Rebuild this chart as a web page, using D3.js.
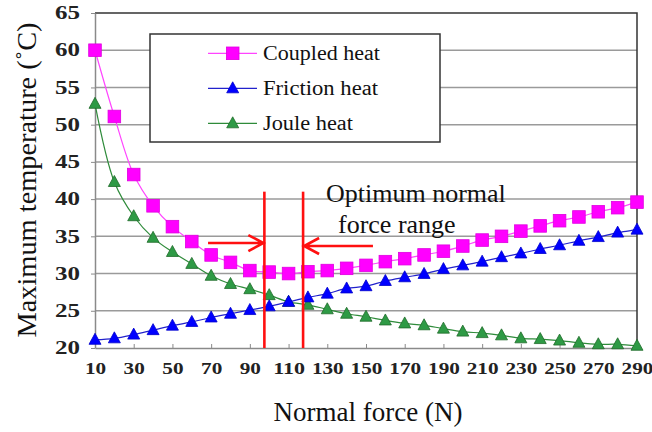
<!DOCTYPE html>
<html><head><meta charset="utf-8">
<script src="https://cdn.jsdelivr.net/npm/d3@7"></script>
<style>body{margin:0;background:#fff}svg{display:block}</style>
</head><body>
<script>
const forces = d3.range(10, 300, 10);
const coupled = [60, 51.1, 43.3, 39.1, 36.3, 34.3, 32.5, 31.5, 30.4, 30.2, 30.0, 30.25, 30.4, 30.7, 31.1, 31.6, 32.0, 32.5, 33.0, 33.7, 34.5, 35.0, 35.7, 36.4, 37.1, 37.6, 38.3, 38.85, 39.6];
const friction = [21.1, 21.3, 21.8, 22.4, 23.0, 23.5, 24.1, 24.6, 25.1, 25.6, 26.2, 26.8, 27.3, 28.0, 28.3, 29.0, 29.5, 29.95, 30.6, 31.1, 31.6, 32.2, 32.7, 33.3, 33.8, 34.4, 34.9, 35.5, 35.9];
const joule = [52.8, 42.3, 37.7, 34.8, 32.9, 31.3, 29.7, 28.6, 27.9, 27.1, 26.2, 25.8, 25.2, 24.6, 24.2, 23.7, 23.3, 23.05, 22.6, 22.2, 22.0, 21.7, 21.3, 21.2, 21.0, 20.7, 20.5, 20.5, 20.3];
const seriesNames = ["Coupled heat", "Friction heat", "Joule heat"];
const xTicks = d3.range(10, 300, 20);
const yTicks = d3.range(20, 70, 5);
const rangeBounds = [97.5, 117.5];
const annotationLines = ["Optimum normal", "force range"];

const SERIF = "'Liberation Serif', 'Times New Roman', serif";
const W = 652, H = 432;
const svg = d3.select("body").append("svg").attr("width", W).attr("height", H);
const x = d3.scaleLinear().domain([10, 290]).range([95, 637]);
const y = d3.scaleLinear().domain([20, 65]).range([348, 13]);

// gridlines
svg.append("g").selectAll("line").data(yTicks.filter(v => v > 20 && v < 65)).join("line")
  .attr("x1", x(10)).attr("x2", x(290)).attr("y1", d => y(d)).attr("y2", d => y(d))
  .attr("stroke", "#9a9a9a").attr("stroke-width", 1.5);
// border top/right
svg.append("path").attr("d", `M${x(10)},${y(65)}H${x(290)}V${y(20)}`)
  .attr("fill", "none").attr("stroke", "#333").attr("stroke-width", 1.5);

// axes
const xAxis = d3.axisBottom(x).tickValues(xTicks).tickSizeInner(-4).tickSizeOuter(0).tickPadding(14);
const gx = svg.append("g").attr("transform", `translate(0,${y(20)})`).call(xAxis);
gx.select(".domain").attr("stroke", "#8a8a8a").attr("stroke-width", 1.5);
gx.selectAll(".tick line").attr("stroke", "#8a8a8a");
gx.selectAll("text").attr("font-family", SERIF).attr("font-weight", "bold")
  .attr("font-size", 17).attr("fill", "#222")
  .attr("textLength", d => String(d).length * 10.6).attr("lengthAdjust", "spacingAndGlyphs");

const yAxis = d3.axisLeft(y).tickValues(yTicks).tickSize(4).tickSizeOuter(0).tickPadding(11);
const gy = svg.append("g").attr("transform", `translate(${x(10)},0)`).call(yAxis);
gy.select(".domain").attr("stroke", "#8a8a8a").attr("stroke-width", 1.5);
gy.selectAll(".tick line").attr("stroke", "#8a8a8a");
gy.selectAll("text").attr("font-family", SERIF).attr("font-weight", "bold")
  .attr("font-size", 18).attr("fill", "#222")
  .attr("textLength", d => String(d).length * 12.5).attr("lengthAdjust", "spacingAndGlyphs");

// titles
svg.append("text").attr("x", 368).attr("y", 421).attr("text-anchor", "middle")
  .attr("font-family", SERIF).attr("font-size", 27).attr("fill", "#111")
  .text("Normal force (N)");
svg.append("text").attr("transform", "translate(36,180) rotate(-90)").attr("text-anchor", "middle")
  .attr("font-family", SERIF).attr("font-size", 28).attr("fill", "#111")
  .attr("textLength", 315).attr("lengthAdjust", "spacingAndGlyphs").text("Maximum temperature (˚C)");

// series
const styles = [
  {data: coupled, line: "#ff44ff", fill: "#ff00ff", stroke: "#e000e0", shape: "square"},
  {data: friction, line: "#2222cc", fill: "#0000ff", stroke: "#0000cc", shape: "tri"},
  {data: joule, line: "#2e8b3a", fill: "#2e9a45", stroke: "#1f6b2a", shape: "tri"}
];
const lineGen = d3.line().x((d, i) => x(forces[i])).y(d => y(d)).curve(d3.curveCatmullRom.alpha(0.5));
function marker(g, shape, s) {
  if (shape === "square") {
    g.append("rect").attr("x", -6.3).attr("y", -6.3).attr("width", 12.6).attr("height", 12.6);
  } else {
    g.append("path").attr("d", "M0,-6.5L6,4.5L-6,4.5Z");
  }
  g.attr("fill", s.fill).attr("stroke", s.stroke).attr("stroke-width", 0.8);
}
[2, 1, 0].forEach(k => {
  const s = styles[k];
  svg.append("path").datum(s.data).attr("d", lineGen).attr("fill", "none")
    .attr("stroke", s.line).attr("stroke-width", 1.2);
  svg.append("g").selectAll("g").data(s.data).join("g")
    .attr("transform", (d, i) => `translate(${x(forces[i])},${y(d)})`)
    .each(function() { marker(d3.select(this), s.shape, s); });
});

// red range lines
svg.append("g").selectAll("line").data(rangeBounds).join("line")
  .attr("x1", d => x(d)).attr("x2", d => x(d)).attr("y1", y(41)).attr("y2", y(20))
  .attr("stroke", "#ff1010").attr("stroke-width", 2.6);
function arrow(xFrom, xTo, v) {
  const dir = Math.sign(xTo - xFrom);
  const tx = x(xTo), ty = y(v);
  svg.append("path").attr("d", `M${x(xFrom)},${ty}H${tx - dir * 1}M${tx - dir * 16},${ty - 8}L${tx - dir * 1},${ty}L${tx - dir * 16},${ty + 8}`)
    .attr("fill", "none").attr("stroke", "#ff1010").attr("stroke-width", 2.6);
}
arrow(68.4, rangeBounds[0], 34.1);
arrow(153.6, rangeBounds[1], 33.7);

svg.append("g").selectAll("text").data(annotationLines).join("text")
  .attr("x", (d, i) => i === 0 ? 326 : 338).attr("y", (d, i) => i === 0 ? 202 : 233)
  .attr("font-family", SERIF).attr("font-size", 26).attr("fill", "#111")
  .text(d => d);

// legend
const lg = svg.append("g");
lg.append("rect").attr("x", 150).attr("y", 34).attr("width", 290).attr("height", 108)
  .attr("fill", "#fff").attr("stroke", "#333").attr("stroke-width", 1.5);
const legendW = [117, 115, 90];
seriesNames.forEach((name, k) => {
  const s = styles[k];
  const ry = 53.3 + k * 35;
  lg.append("line").attr("x1", 208).attr("x2", 257).attr("y1", ry).attr("y2", ry)
    .attr("stroke", s.line).attr("stroke-width", 1.2);
  const g = lg.append("g").attr("transform", `translate(232.7,${ry})`);
  marker(g, s.shape, s);
  lg.append("text").attr("x", 263).attr("y", ry + 6.5).attr("font-family", SERIF)
    .attr("font-size", 20).attr("fill", "#111")
    .attr("textLength", legendW[k]).attr("lengthAdjust", "spacingAndGlyphs").text(name);
});
</script>
</body></html>
